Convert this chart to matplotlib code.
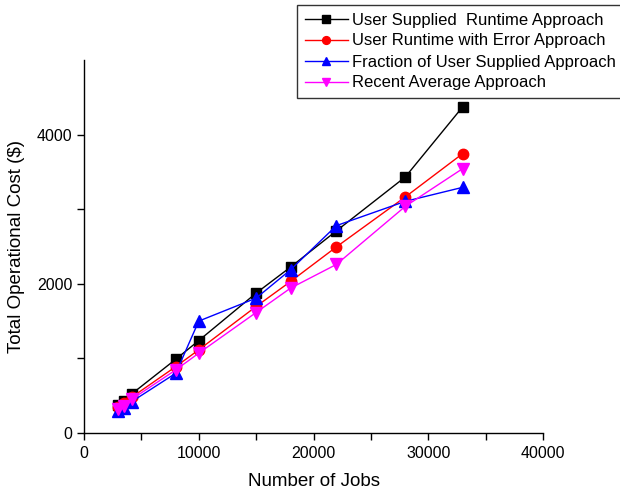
import numpy as np
import matplotlib
matplotlib.use("Agg")
import matplotlib.pyplot as plt
from matplotlib.ticker import MultipleLocator, FixedLocator

plt.rcParams["font.family"] = ["Liberation Sans", "DejaVu Sans"]

jobs = [2950, 3500, 4150, 8000, 10000, 15000, 18000, 22000, 28000, 33000]
user_supplied = [376, 434, 523, 989, 1239, 1875, 2224, 2710, 3432, 4372]
runtime_error = [345, 399, 479, 890, 1115, 1696, 2031, 2495, 3164, 3745]
fraction_user = [300, 340, 420, 801, 1500, 1808, 2188, 2780, 3105, 3293]
recent_avg = [318, 362, 452, 846, 1070, 1615, 1942, 2260, 3038, 3544]

labels = ["User Supplied  Runtime Approach",
          "User Runtime with Error Approach",
          "Fraction of User Supplied Approach",
          "Recent Average Approach"]

fig = plt.figure(figsize=(6.2, 4.93), dpi=100)
ax = fig.add_axes([84 / 620, 1 - 433 / 493, 459 / 620, 373 / 493])

ax.plot(jobs, user_supplied, "-s", color="black", lw=1, ms=7, label=labels[0])
ax.plot(jobs, runtime_error, "-o", color="red", lw=1, ms=7.5, label=labels[1])
ax.plot(jobs, fraction_user, "-^", color="blue", lw=1, ms=8, label=labels[2])
ax.plot(jobs, recent_avg, "-v", color="magenta", lw=1, ms=8, label=labels[3])

ax.set_xlim(0, 40000)
ax.set_ylim(0, 5000)
ax.xaxis.set_major_locator(MultipleLocator(10000))
ax.xaxis.set_minor_locator(MultipleLocator(5000))
ax.yaxis.set_major_locator(FixedLocator([0, 2000, 4000]))
ax.yaxis.set_minor_locator(FixedLocator([1000, 3000]))
ax.tick_params(which="both", direction="out", length=5, width=1, labelsize=11.5)
ax.tick_params(axis="x", pad=4)

for s in ["top", "right"]:
    ax.spines[s].set_visible(False)
for s in ["left", "bottom"]:
    ax.spines[s].set_linewidth(1)

ax.set_xlabel("Number of Jobs", fontsize=13.5, labelpad=9)
ax.set_ylabel("Total Operational Cost ($)", fontsize=13.5, labelpad=8)

leg = fig.legend(loc="upper left", bbox_to_anchor=(297 / 620, 1 - 5 / 493),
                 fontsize=12, frameon=True, fancybox=False, edgecolor="black",
                 handlelength=2.6, handletextpad=0.25, labelspacing=0.36,
                 borderpad=0.45, borderaxespad=0, markerscale=0.75)
leg.get_frame().set_linewidth(1)

fig.savefig("out.png", dpi=100)
